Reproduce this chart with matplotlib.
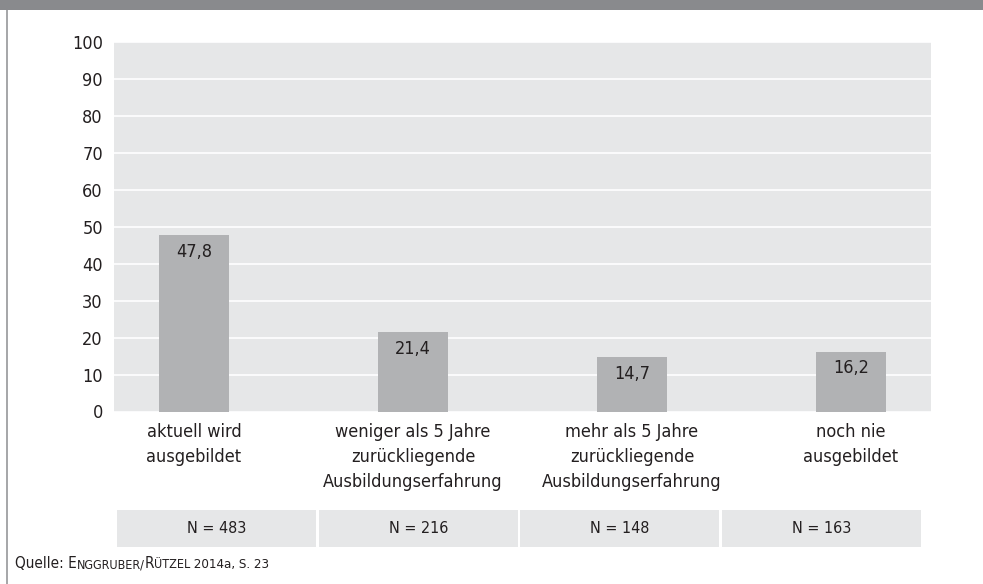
import matplotlib.pyplot as plt
from matplotlib.patches import Rectangle

plt.rcParams['font.family'] = ['DejaVu Sans']
plt.rcParams['font.stretch'] = 'condensed'

# data
categories = ['aktuell wird\nausgebildet',
              'weniger als 5 Jahre\nzurückliegende\nAusbildungserfahrung',
              'mehr als 5 Jahre\nzurückliegende\nAusbildungserfahrung',
              'noch nie\nausgebildet']
values = [47.8, 21.4, 14.7, 16.2]
n_labels = ['N = 483', 'N = 216', 'N = 148', 'N = 163']
y_ticks = list(range(0, 101, 10))

W, H = 983, 584
bg_grey = '#e6e7e8'
bar_grey = '#b1b2b4'
text_col = '#231f20'

fig = plt.figure(figsize=(W / 100, H / 100), dpi=100)

# frame: top banner and left rule
fig.add_artist(Rectangle((0, 1 - 10 / H), 1, 10 / H, transform=fig.transFigure,
                         facecolor='#898a8d', edgecolor='none'))
fig.add_artist(Rectangle((6 / W, 0), 2 / W, 1 - 10 / H, transform=fig.transFigure,
                         facecolor='#a7a8aa', edgecolor='none'))

# main chart
ax = fig.add_axes([114 / W, (H - 411.5) / H, (931 - 114) / W, (411.5 - 42) / H])
ax.set_facecolor(bg_grey)
x = list(range(len(values)))
ax.bar(x, values, width=0.32, color=bar_grey, zorder=3)
ax.set_xlim(-0.365, 3.365)
ax.set_ylim(0, 100)
ax.set_yticks(y_ticks)
ax.set_yticklabels([str(t) for t in y_ticks], fontsize=13, color=text_col)
ax.tick_params(axis='y', length=0, pad=8)
ax.set_xticks(x)
ax.set_xticklabels(categories, fontsize=13, color=text_col, linespacing=1.5, va='top')
ax.tick_params(axis='x', length=0, pad=8)
ax.grid(axis='y', color='white', linewidth=1.2, zorder=1)
for s in ax.spines.values():
    s.set_visible(False)

for xi, v in zip(x, values):
    ax.annotate(f'{v:.1f}'.replace('.', ','), xy=(xi, v), xytext=(0, -12),
                textcoords='offset points', ha='center', va='center',
                fontsize=13, color=text_col, zorder=4)

# N row
axn = fig.add_axes([116 / W, (H - 547) / H, (922 - 116) / W, 37 / H])
axn.bar(x, [1] * len(n_labels), width=0.99, color=bg_grey)
axn.set_xlim(-0.5, 3.5)
axn.set_ylim(0, 1)
axn.axis('off')
for xi, lab in zip(x, n_labels):
    axn.text(xi, 0.5, lab, ha='center', va='center', fontsize=11.5, color=text_col)

# source line in small caps style
pieces = [('Quelle: E', 11), ('NGGRUBER/', 9), ('R', 11), ('ÜTZEL', 9),
          (' 2014a, S. 23', 9.5)]
prev = fig.text(15 / W, (H - 568) / H, pieces[0][0], fontsize=pieces[0][1],
                color=text_col, ha='left', va='baseline')
for txt, size in pieces[1:]:
    prev = ax.annotate(txt, xy=(1, 0), xycoords=prev, ha='left', va='bottom',
                       fontsize=size, color=text_col, annotation_clip=False)

fig.savefig('out.png', dpi=100)
